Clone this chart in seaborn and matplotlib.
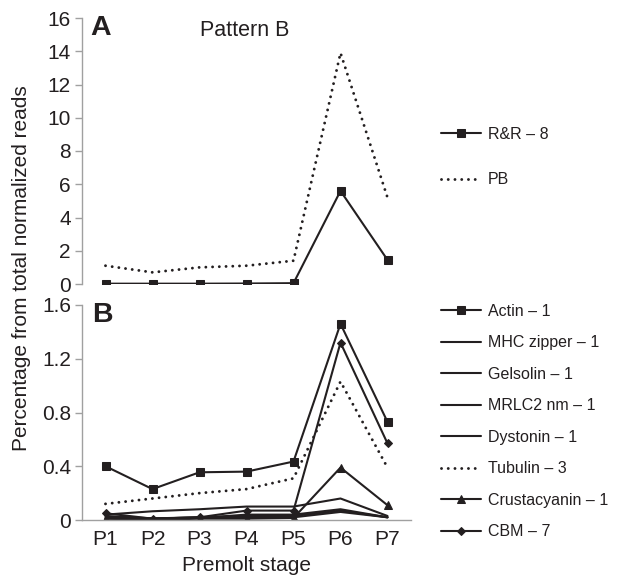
import matplotlib
matplotlib.use("Agg")
import matplotlib.pyplot as plt
import seaborn as sns
import pandas as pd

stages = ["P1", "P2", "P3", "P4", "P5", "P6", "P7"]

# Panel A
rr8 = [0.02, 0.02, 0.02, 0.03, 0.05, 5.6, 1.45]
pb = [1.1, 0.7, 1.0, 1.1, 1.4, 13.9, 5.2]

# Panel B
actin = [0.40, 0.23, 0.355, 0.36, 0.435, 1.46, 0.73]
mhc = [0.04, 0.065, 0.08, 0.10, 0.10, 0.16, 0.03]
gelsolin = [0.03, 0.012, 0.02, 0.03, 0.03, 0.07, 0.02]
mrlc2 = [0.02, 0.01, 0.02, 0.02, 0.02, 0.06, 0.02]
dystonin = [0.01, 0.01, 0.015, 0.04, 0.04, 0.08, 0.02]
tubulin = [0.12, 0.16, 0.20, 0.23, 0.31, 1.03, 0.39]
crusta = [0.01, 0.0, 0.01, 0.01, 0.015, 0.39, 0.11]
cbm = [0.05, 0.01, 0.02, 0.07, 0.07, 1.32, 0.57]

sns.set_style("white")
plt.rcParams["font.family"] = ["Liberation Sans", "DejaVu Sans"]

K = "#231f20"
GRAY = "#a0a0a0"
W, H = 643, 580
fig = plt.figure(figsize=(6.43, 5.8), dpi=100)

def fx(px):
    return px / W

def fy(py):
    return 1 - py / H

axA = fig.add_axes([fx(82), fy(284), fx(411 - 82), fy(18) - fy(284)])
axB = fig.add_axes([fx(82), fy(520), fx(411 - 82), fy(305) - fy(520)])

def draw(ax, vals, label, marker=None, ls="-", ms=5.5, lw=1.5):
    df = pd.DataFrame({"stage": stages, "val": vals})
    kw = dict(data=df, x="stage", y="val", ax=ax, color=K, label=label,
              linewidth=lw, sort=False)
    if marker:
        kw.update(marker=marker, markersize=ms, markeredgecolor=K, markerfacecolor=K)
    sns.lineplot(**kw)
    l = ax.get_lines()[-1]
    if ls == "dot":
        l.set_linewidth(2.1)
        l.set_linestyle((0, (0.01, 2.3)))
        l.set_dash_capstyle("round")
    return l

draw(axA, rr8, "R&R – 8", marker="s", ms=5.5)
draw(axA, pb, "PB", ls="dot")

draw(axB, actin, "Actin – 1", marker="s", ms=6)
draw(axB, mhc, "MHC zipper – 1")
draw(axB, gelsolin, "Gelsolin – 1")
draw(axB, mrlc2, "MRLC2 nm – 1")
draw(axB, dystonin, "Dystonin – 1")
draw(axB, tubulin, "Tubulin – 3", ls="dot")
draw(axB, crusta, "Crustacyanin – 1", marker="^", ms=6)
draw(axB, cbm, "CBM – 7", marker="D", ms=4.5)

for ax in (axA, axB):
    ax.set_xlim(-0.5, 6.5)
    for s in ("top", "right"):
        ax.spines[s].set_visible(False)
    ax.spines["left"].set_color(GRAY)
    ax.spines["left"].set_linewidth(1.0)
    ax.spines["bottom"].set_color(GRAY)
    ax.spines["bottom"].set_linewidth(1.0)
    ax.tick_params(axis="y", which="major", direction="out", length=5, width=1,
                   color=GRAY, labelsize=15, pad=3, left=True, labelcolor=K)
    ax.set_xlabel("")
    ax.set_ylabel("")
    ax.patch.set_alpha(0)

axA.spines["bottom"].set_visible(False)
axA.set_ylim(0, 16)
axA.set_yticks([0, 2, 4, 6, 8, 10, 12, 14, 16])
axA.set_yticklabels(["0", "2", "4", "6", "8", "10", "12", "14", "16"])
axA.set_xticks([])

axB.set_ylim(0, 1.6)
axB.set_yticks([0, 0.4, 0.8, 1.2, 1.6])
axB.set_yticklabels(["0", "0.4", "0.8", "1.2", "1.6"])
axB.tick_params(axis="x", bottom=False, labelsize=15, pad=4, labelcolor=K)
axB.set_xlabel("Premolt stage", fontsize=15, color=K, labelpad=5)

fig.text(fx(90), fy(15), "A", fontsize=20.5, fontweight="bold", color=K, va="top", ha="left")
fig.text(fx(92), fy(302), "B", fontsize=20.5, fontweight="bold", color=K, va="top", ha="left")
fig.text(fx(200), fy(20), "Pattern B", fontsize=15.5, color=K, va="top", ha="left")
fig.text(fx(22), fy(268), "Percentage from total normalized reads", rotation=90,
         fontsize=15, color=K, ha="center", va="center")

legA = axA.legend(loc="upper left", bbox_to_anchor=(fx(441), fy(127)),
                  bbox_transform=fig.transFigure, frameon=False, fontsize=11.5,
                  handlelength=2.5, handletextpad=0.45, labelspacing=1.9,
                  borderaxespad=0, borderpad=0)
legB = axB.legend(loc="upper left", bbox_to_anchor=(fx(441), fy(304)),
                  bbox_transform=fig.transFigure, frameon=False, fontsize=11.5,
                  handlelength=2.5, handletextpad=0.45, labelspacing=1.03,
                  borderaxespad=0, borderpad=0)
for leg in (legA, legB):
    for t in leg.get_texts():
        t.set_color(K)

fig.savefig("out.png", dpi=100)
